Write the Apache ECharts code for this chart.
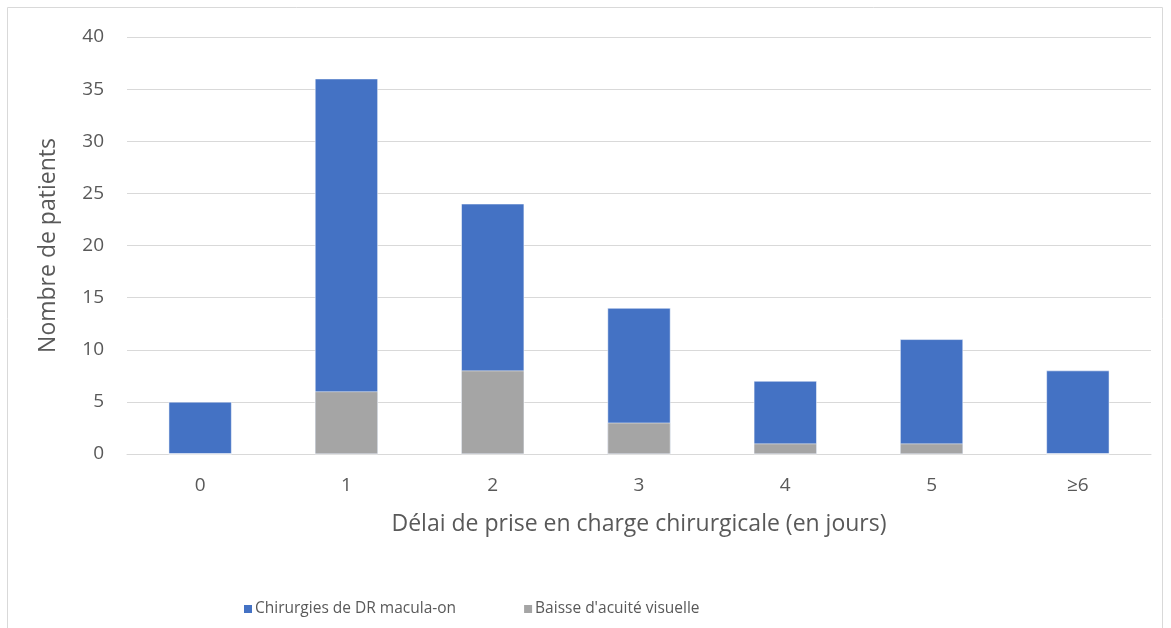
<!DOCTYPE html>
<html><head><meta charset="utf-8">
<script src="https://cdn.jsdelivr.net/npm/echarts@6/dist/echarts.min.js"></script>
<style>html,body{margin:0;padding:0;background:#fff}#c{width:1171px;height:628px}</style>
</head><body><div id="c"></div>
<script>
const categories = ['0','1','2','3','4','5','≥6'];
const chirurgies = [5, 36, 24, 14, 7, 11, 8];
const baisse = [0, 6, 8, 3, 1, 1, 0];
const yTicks = {min: 0, max: 40, interval: 5};
const FONT = '"Open Sans", "Noto Sans", sans-serif';
const TXT = '#595959';
const chart = echarts.init(document.getElementById('c'), null, {renderer: 'canvas'});
chart.setOption({
  animation: false,
  textStyle: {fontFamily: FONT},
  graphic: [{type: 'rect', shape: {x: 7.5, y: 7.5, width: 1155, height: 640}, style: {fill: 'none', stroke: '#d9d9d9', lineWidth: 1}, silent: true}],
  grid: {left: 127, right: 20, top: 37, bottom: 174, containLabel: false},
  legend: {
    left: 237, top: 596, itemWidth: 10, itemHeight: 10, itemGap: 66, icon: 'rect',
    textStyle: {color: TXT, fontSize: 15.5, fontFamily: FONT, padding: [0, 0, 0, -3]},
    data: ['Chirurgies de DR macula-on', "Baisse d'acuité visuelle"]
  },
  xAxis: {
    type: 'category', data: categories,
    axisLine: {show: true, lineStyle: {color: '#d9d9d9', width: 1}},
    axisTick: {show: false},
    axisLabel: {color: TXT, fontSize: 19, margin: 22, fontFamily: FONT},
    name: 'Délai de prise en charge chirurgicale (en jours)',
    nameLocation: 'middle', nameGap: 59,
    nameTextStyle: {color: TXT, fontSize: 23, fontFamily: FONT}
  },
  yAxis: {
    type: 'value', min: yTicks.min, max: yTicks.max, interval: yTicks.interval,
    axisLine: {show: false}, axisTick: {show: false},
    splitLine: {lineStyle: {color: '#d9d9d9', width: 1}},
    axisLabel: {color: TXT, fontSize: 19, margin: 23, fontFamily: FONT},
    name: 'Nombre de patients', nameLocation: 'middle', nameGap: 67,
    nameTextStyle: {color: TXT, fontSize: 23, fontFamily: FONT}
  },
  series: [
    {name: 'Chirurgies de DR macula-on', type: 'bar', data: chirurgies, barWidth: '43%',
     itemStyle: {color: '#4472c4', borderColor: '#ffffff', borderWidth: 0.5}},
    {name: "Baisse d'acuité visuelle", type: 'bar', data: baisse, barWidth: '43%', barGap: '-100%',
     itemStyle: {color: '#a5a5a5', borderColor: '#ffffff', borderWidth: 0.5}}
  ]
});
</script></body></html>
